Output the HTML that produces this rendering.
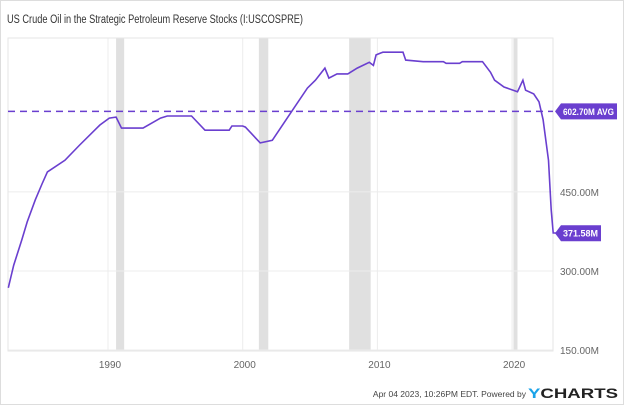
<!DOCTYPE html>
<html><head><meta charset="utf-8"><style>
body{margin:0;background:#fff;width:624px;height:405px;overflow:hidden;font-family:"Liberation Sans",sans-serif}
svg text{font-family:"Liberation Sans",sans-serif}
</style></head><body>
<svg width="624" height="405">
<rect x="0.5" y="0.5" width="623" height="404" fill="#fff" stroke="#ddd"/>
<text x="7" y="23" font-size="11.5" fill="#333" textLength="296" lengthAdjust="spacingAndGlyphs">US Crude Oil in the Strategic Petroleum Reserve Stocks (I:USCOSPRE)</text>
<g id="rec"></g><g id="grid"></g>
<rect x="8" y="38" width="545" height="313" fill="none" stroke="#e6e6e6"/>
<g id="ticks"></g>
<path id="line" fill="none" stroke="#6a3fcf" stroke-width="1.6"/>
<line id="avg" stroke="#6a3fcf" stroke-width="1.5" stroke-dasharray="7,5"/>
<g id="labels"></g>
<text x="526" y="397" font-size="8.5" fill="#444" text-anchor="end">Apr 04 2023, 10:26PM EDT.  Powered by</text>
<text x="528" y="398" font-size="14" font-weight="bold" fill="#222" textLength="90" lengthAdjust="spacingAndGlyphs"><tspan fill="#1aa3e8">Y</tspan>CHARTS</text>
</svg>
<script>
const years=[1982.6,1983,1983.6,1984,1984.6,1985.1,1985.5,1986.8,1987.9,1989.4,1990.1,1990.6,1991,1992.6,1993.9,1994.4,1996.2,1997.2,1999,1999.2,2000,2000.2,2001.3,2002.2,2003.7,2004.8,2005.4,2006.1,2006.4,2007,2007.8,2008.5,2009.4,2009.7,2009.9,2010.4,2011.9,2012.1,2013.4,2014.9,2015.1,2016.1,2016.3,2017.8,2018.4,2018.7,2019.4,2020.4,2020.8,2021,2021.6,2022,2022.3,2022.7,2022.9,2023.05,2023.25];
const values=[268,311,359,393,435,465,488,510,539,577,590,592,571,571,590,594,594,567,567,575,575,573,543,548,605,647,662,685,666,674,674,685,696,690,710,715,715,700,697,697,694,694,697,697,677,662,649,640,662,643,636,621,587,510,416,372,372];
const yTicks=[150,300,450];
const xTicks=[1990,2000,2010,2020];
const recessions=[[1990.6,1991.2],[2001.2,2001.9],[2007.9,2009.5],[2020.1,2020.4]];
const avgValue=602.70, lastValue=371.58;
const X=y=>108+(y-1990)*13.47, Y=v=>350-(v-150)*0.527;
const ns="http://www.w3.org/2000/svg";
function mk(t,a,p){const e=document.createElementNS(ns,t);for(const k in a)e.setAttribute(k,a[k]);document.getElementById(p).appendChild(e);return e;}
recessions.forEach(r=>{const e=mk('rect',{x:X(r[0]),y:38,width:X(r[1])-X(r[0]),height:313,fill:'#e0e0e0'},'rec');

});
yTicks.forEach(v=>{const l=mk('line',{x1:8,x2:553,y1:Y(v),y2:Y(v),stroke:'#ececec'},'grid');


const t=mk('text',{x:560,y:Y(v)+4,'font-size':10,fill:'#666'},'ticks');t.textContent=v.toFixed(2)+'M';

});
xTicks.forEach(v=>{const l=mk('line',{x1:X(v),x2:X(v),y1:38,y2:351,stroke:'#ececec'},'grid');


const t=mk('text',{x:X(v)+2,y:368,'font-size':10,fill:'#666','text-anchor':'middle'},'ticks');t.textContent=v;

});
document.getElementById('line').setAttribute('d',years.map((y,i)=>(i?'L':'M')+X(y).toFixed(1)+','+Y(values[i]).toFixed(1)).join(''));
const a=document.getElementById('avg');a.setAttribute('x1',8);a.setAttribute('x2',553);a.setAttribute('y1',Y(avgValue));a.setAttribute('y2',Y(avgValue));
function badge(v,txt,w,name){const y=Y(v);
const p=mk('path',{d:`M555,${y}L561,${y-8}H${561+w}V${y+8}H561Z`,fill:'#6a3fcf'},'labels');


const t=mk('text',{x:563,y:y+3.5,'font-size':9.5,'font-weight':'bold',fill:'#fff',textLength:w-5,lengthAdjust:'spacingAndGlyphs'},'labels');t.textContent=txt;

}
badge(avgValue,avgValue.toFixed(2)+'M AVG',56,'average');
badge(lastValue,lastValue.toFixed(2)+'M',40,'last-value');
</script>
</body></html>
